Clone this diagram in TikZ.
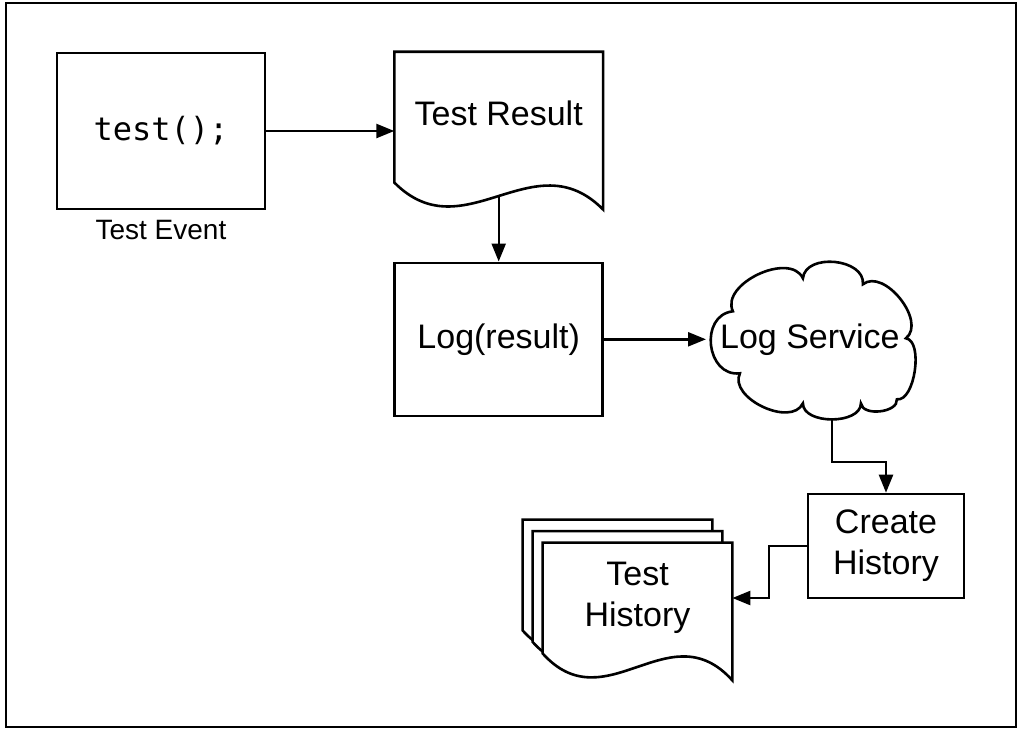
\documentclass[tikz,border=0pt]{standalone}
\usepackage{fontspec}
\setmainfont{Liberation Sans}
\setmonofont{DejaVu Sans Mono}
\usepackage{tikz}
\usetikzlibrary{arrows.meta, positioning, calc, backgrounds}
\tikzstyle{box} = [rectangle, draw=black, line width=1.3pt, fill=white, text centered, align=center]
\tikzstyle{arrow} = [line width=1.2pt, -{Triangle[length=9pt, width=7pt]}]
\newcommand{\wavedepth}{13.5pt}
\newcommand{\drawdoc}[1]{%
  \draw[line width=1.3pt, fill=white] (#1.south west) -- (#1.north west) -- (#1.north east)
    -- ($(#1.south east)+(0,-\wavedepth)$)
    .. controls ($(#1.south west)!0.667!(#1.south east)+(0,1.6*\wavedepth)$)
    and ($(#1.south west)!0.333!(#1.south east)+(0,-2.6*\wavedepth)$) .. (#1.south west) -- cycle;
  \coordinate (#1-wave) at ($(#1.south)+(0,-0.5*\wavedepth)$);
}

\begin{document}
\begin{tikzpicture}[
    x=0.5pt, y=-0.5pt,
    every node/.style={font=\fontsize{17}{20.5}\selectfont},
    docbox/.style={rectangle, inner sep=0pt, align=center, minimum width=104pt, minimum height=65pt},
    service/.style={rectangle, inner sep=0pt, minimum width=103.5pt, minimum height=80pt},
    puff/.style={bend left=90, looseness=#1},
    caption/.style={inner sep=0pt, font=\fontsize{14}{16}\selectfont}
]
\useasboundingbox (0,0) rectangle (1024,736);
\draw[line width=1pt] (6,3) rectangle (1016,727);

% Nodes
\node (test) [box, minimum width=104pt, minimum height=78pt] at (161,131) {\fontsize{16}{19}\ttfamily test();};
\node (event) [caption, below=5pt of test] {Test Event};
\node (result) [docbox, text depth=4pt, right=64pt of test.north east, anchor=north west] {Test Result};
\node (log) [box, minimum width=104pt, minimum height=76.5pt, below=39.5pt of result] {Log(result)};
\node (service) [service, right=51pt of log] {Log Service};
\node (create) [box, minimum width=78pt, minimum height=52pt] at (886,546) {Create\\History};
\node (history) [docbox, minimum width=94.5pt, minimum height=55pt] at (637.5,598) {Test\\History};
\node (history-mid) [docbox, minimum width=94.5pt, minimum height=55pt] at ([xshift=-5pt, yshift=5.75pt]history.center) {};
\node (history-back) [docbox, minimum width=94.5pt, minimum height=55pt] at ([xshift=-5pt, yshift=5.75pt]history-mid.center) {};

% Document outlines and cloud
\begin{pgfonlayer}{background}
\drawdoc{result}
\drawdoc{history-back}
\drawdoc{history-mid}
\drawdoc{history}
\begin{scope}[shift={(service.center)}]
\draw[line width=1.3pt, fill=white] (-7,-61) to[puff=1.1] (53,-55) to[puff=1.0] (96,-1)
  to[puff=0.75] (87,60) to[puff=0.95] (51,64) to[puff=0.95] (-7,64)
  to[puff=1.0] (-70,34) to[puff=1.4] (-77,-28) to[puff=1.0] (-7,-61) -- cycle;
\end{scope}
\end{pgfonlayer}

% Arrows
\draw [arrow] (test.east) -- (test.east -| result.west);
\draw [arrow] (result-wave) -- (log.north);
\draw [arrow] (log) -- (service);
\draw [arrow] ([xshift=11pt]service.south) -- ++(0,-21pt) -| (create.north);
\draw [arrow] (create.west) -- ++(-19pt,0) |- (history.east);

\end{tikzpicture}
\end{document}
